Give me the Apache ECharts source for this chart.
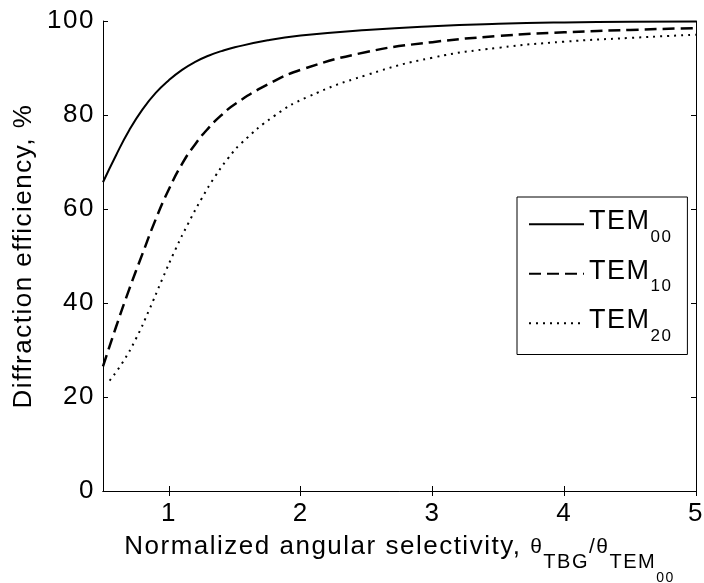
<!DOCTYPE html>
<html>
<head>
<meta charset="utf-8">
<script src="https://cdn.jsdelivr.net/npm/echarts@6/dist/echarts.min.js"></script>
<style>
html,body{margin:0;padding:0;background:#fff;}
#c{width:704px;height:583px;}
</style>
</head>
<body>
<div id="c"></div>
<script>
var xTicks = [1, 2, 3, 4, 5];

var x00 = [0.5, 0.6, 0.7, 0.8, 0.9, 1.0, 1.1, 1.2, 1.3, 1.4, 1.5, 1.75, 2.0, 2.5, 3.0, 3.5, 4.0, 4.5, 5.0];
var tem00 = [65.7, 71.5, 76.8, 81.2, 84.7, 87.4, 89.6, 91.3, 92.6, 93.6, 94.4, 95.9, 96.9, 98.1, 98.9, 99.4, 99.7, 99.85, 99.9];

var x10 = [0.5, 0.6, 0.7, 0.8, 0.9, 1.0, 1.1, 1.2, 1.3, 1.4, 1.5, 1.75, 2.0, 2.5, 3.0, 3.5, 4.0, 4.5, 5.0];
var tem10 = [26.5, 35, 43, 50.5, 57.8, 64.2, 69.6, 73.8, 77.2, 80.0, 82.3, 86.5, 89.6, 93.4, 95.5, 96.8, 97.6, 98.1, 98.5];

var x20 = [0.55, 0.65, 0.75, 0.85, 0.95, 1.05, 1.15, 1.25, 1.35, 1.45, 1.55, 1.8, 2.05, 2.5, 3.0, 3.5, 4.0, 4.5, 5.0];
var tem20 = [23.5, 27.4, 32.4, 38.5, 45.1, 51.4, 57.1, 62.3, 66.9, 70.8, 74.0, 79.8, 83.8, 88.5, 92.2, 94.3, 95.6, 96.4, 97.1];

var seriesNames = ['TEM00', 'TEM10', 'TEM20'];

// slightly wider text spacing, like the reference's rendering
(function () {
  var P = CanvasRenderingContext2D.prototype;
  var of = P.fillText, om = P.measureText;
  P.fillText = function () { try { this.letterSpacing = '1.5px'; } catch (e) {} return of.apply(this, arguments); };
  P.measureText = function () { try { this.letterSpacing = '1.5px'; } catch (e) {} return om.apply(this, arguments); };
})();

function pairs(xs, ys) { return xs.map(function (x, i) { return [x, ys[i]]; }); }

var FONT = 'Liberation Sans';
var chart = echarts.init(document.getElementById('c'), null, {renderer: 'canvas'});

var axisLineCommon = {show: true, lineStyle: {color: '#000', width: 1}};

var option = {
  animation: false,
  backgroundColor: '#fff',
  grid: {left: 103, right: 8, top: 21, bottom: 92, containLabel: false, outerBoundsMode: 'none'},
  xAxis: [
    {
      type: 'value', min: 0.5, max: 5, position: 'bottom',
      axisLine: axisLineCommon, splitLine: {show: false},
      axisTick: {inside: true, length: 5, lineStyle: {color: '#000'}, customValues: xTicks},
      axisLabel: {customValues: xTicks, margin: 9, color: '#000', fontFamily: FONT, fontSize: 26},
      name: 'Normalized angular selectivity, {t|θ}{s|TBG}{t|/θ}{s|TEM}{ss|00}',
      nameLocation: 'middle',
      nameGap: 43,
      nameMoveOverlap: false,
      nameTextStyle: {
        color: '#000', fontFamily: FONT, fontSize: 26, lineHeight: 26,
        rich: {
          t: {fontFamily: FONT, fontSize: 21, lineHeight: 21, color: '#000', verticalAlign: 'middle'},
          s: {fontFamily: FONT, fontSize: 20, lineHeight: 20, color: '#000', verticalAlign: 'middle', padding: [30, 0, 0, 0]},
          ss: {fontFamily: FONT, fontSize: 14, lineHeight: 14, color: '#000', verticalAlign: 'middle', padding: [62, 0, 0, 0]}
        }
      }
    },
    {
      type: 'value', min: 0.5, max: 5, position: 'top',
      axisLine: axisLineCommon, splitLine: {show: false},
      axisTick: {inside: true, length: 5, lineStyle: {color: '#000'}, customValues: xTicks},
      axisLabel: {show: false, customValues: xTicks}
    }
  ],
  yAxis: [
    {
      type: 'value', min: 0, max: 100, interval: 20, position: 'left',
      axisLine: axisLineCommon, splitLine: {show: false},
      axisTick: {inside: true, length: 5, lineStyle: {color: '#000'}},
      axisLabel: {margin: 8, color: '#000', fontFamily: FONT, fontSize: 26},
      name: 'Diffraction efficiency, %',
      nameLocation: 'middle',
      nameGap: 65,
      nameMoveOverlap: false,
      nameTextStyle: {color: '#000', fontFamily: FONT, fontSize: 26}
    },
    {
      type: 'value', min: 0, max: 100, interval: 20, position: 'right',
      axisLine: axisLineCommon, splitLine: {show: false},
      axisTick: {inside: true, length: 5, lineStyle: {color: '#000'}},
      axisLabel: {show: false}
    }
  ],
  legend: {
    orient: 'vertical',
    left: 517, top: 197,
    padding: [5, 15, 9, 11],
    borderColor: '#000', borderWidth: 1,
    backgroundColor: '#fff',
    itemWidth: 55, itemHeight: 20, itemGap: 5,
    itemStyle: {opacity: 0},
    data: seriesNames,
    formatter: function (n) { return '{m|TEM}{s|' + n.slice(3) + '}'; },
    textStyle: {
      color: '#000', fontFamily: FONT,
      rich: {
        m: {fontFamily: FONT, fontSize: 27, lineHeight: 30, color: '#000', verticalAlign: 'middle', padding: [0, 0, 5, 0]},
        s: {fontFamily: FONT, fontSize: 17, lineHeight: 17, color: '#000', verticalAlign: 'middle', padding: [26, 0, 0, 0]}
      }
    }
  },
  series: [
    {name: seriesNames[0], type: 'line', smooth: true, symbol: 'none', data: pairs(x00, tem00),
      lineStyle: {color: '#000', width: 2, type: 'solid'}, itemStyle: {color: '#000'}},
    {name: seriesNames[1], type: 'line', smooth: true, symbol: 'none', data: pairs(x10, tem10),
      lineStyle: {color: '#000', width: 2.5, type: [12, 6]}, itemStyle: {color: '#000'}},
    {name: seriesNames[2], type: 'line', smooth: true, symbol: 'none', data: pairs(x20, tem20),
      lineStyle: {color: '#000', width: 2, type: [2, 5]}, itemStyle: {color: '#000'}}
  ]
};
chart.setOption(option);
</script>
</body>
</html>
